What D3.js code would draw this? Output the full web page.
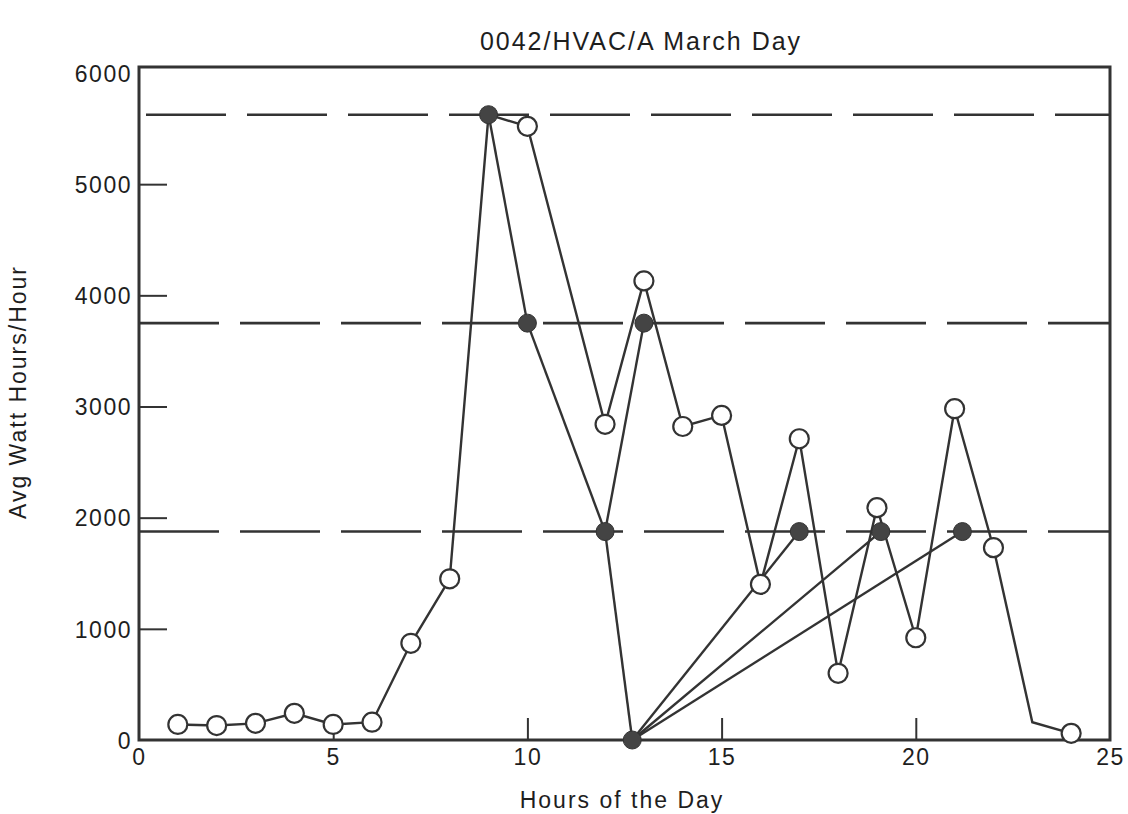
<!DOCTYPE html>
<html>
<head>
<meta charset="utf-8">
<script src="https://cdn.jsdelivr.net/npm/d3@7"></script>
<style>
  body { margin: 0; background: #fff; }
  text { font-family: "Liberation Sans", Arial, sans-serif; fill: #1e1e1e; }
</style>
</head>
<body>
<div id="chart"></div>
<script>
// open-circle series (hour 23 has no marker in the original)
const openHours = [1, 2, 3, 4, 5, 6, 7, 8, 9, 10, 12, 13, 14, 15, 16, 17, 18, 19, 20, 21, 22, 23, 24];
const openValues = [140, 130, 150, 240, 140, 160, 870, 1450, 5625, 5520, 2840, 4130, 2820, 2920, 1400, 2710, 600, 2090, 920, 2980, 1730, 160, 60];
const unmarkedHours = [9, 23];

// filled-circle points and the segments joining them
const filledHours = [9, 10, 12, 13, 12.7, 17, 19.1, 21.2];
const filledValues = [5625, 3750, 1875, 3750, 0, 1875, 1875, 1875];
const filledLinks = [[0, 1], [1, 2], [2, 3], [2, 4], [4, 5], [4, 6], [4, 7]];

// dashed reference levels
const refValues = [5625, 3750, 1875];

const xTicks = [0, 5, 10, 15, 20, 25];
const yTicks = [0, 1000, 2000, 3000, 4000, 5000, 6000];

const svgWidth = 1128, svgHeight = 814;
const margin = { top: 67, right: 18, bottom: 74, left: 139 };
const width = svgWidth - margin.left - margin.right;
const height = svgHeight - margin.top - margin.bottom;

const svg = d3.select("#chart").append("svg")
  .attr("width", svgWidth)
  .attr("height", svgHeight);

const g = svg.append("g")
  .attr("transform", `translate(${margin.left}, ${margin.top})`);

const x = d3.scaleLinear().domain([0, 25]).range([0, width]);
const y = d3.scaleLinear().domain([0, 6000]).range([height, 6]);

const ink = "#333";

// reference dashes
g.selectAll(".ref")
  .data(refValues)
  .enter().append("line")
  .attr("x1", (d, i) => i === 0 ? 7 : 0)
  .attr("x2", width)
  .attr("y1", d => y(d))
  .attr("y2", d => y(d))
  .attr("stroke", ink)
  .attr("stroke-width", 2.6)
  .attr("stroke-dasharray", "80 21");

// axes with inward ticks
const xAxis = g.append("g")
  .attr("transform", `translate(0, ${height})`)
  .call(d3.axisBottom(x).tickValues(xTicks).tickSize(-22).tickPadding(7).tickFormat(d3.format("d")));

const yAxis = g.append("g")
  .call(d3.axisLeft(y).tickValues(yTicks).tickSize(-28).tickPadding(7).tickFormat(d3.format("d")));

[xAxis, yAxis].forEach(a => {
  a.select(".domain").remove();
  a.selectAll("line").attr("stroke", ink).attr("stroke-width", 2);
  a.selectAll("text")
    .style("font-size", "23px")
    .style("letter-spacing", "1.5px")
    .attr("fill", "#1e1e1e");
});
xAxis.selectAll(".tick").filter(d => d === 0 || d === 25).select("line").remove();
yAxis.selectAll(".tick").filter(d => d === 0 || d === 6000).select("line").remove();
xAxis.selectAll("text").attr("dy", "0.78em");
yAxis.selectAll("text").attr("dy", "0.36em");

// frame
g.append("rect")
  .attr("x", 0).attr("y", 0)
  .attr("width", width).attr("height", height)
  .attr("fill", "none")
  .attr("stroke", ink)
  .attr("stroke-width", 3);

// open series line
const openData = openHours.map((h, i) => ({ h: h, v: openValues[i] }));
const line = d3.line().x(d => x(d.h)).y(d => y(d.v));

g.append("path")
  .datum(openData)
  .attr("d", line)
  .attr("fill", "none")
  .attr("stroke", ink)
  .attr("stroke-width", 2.4);

// filled series segments
const filledData = filledHours.map((h, i) => ({ h: h, v: filledValues[i] }));
g.selectAll(".link")
  .data(filledLinks)
  .enter().append("path")
  .attr("d", d => line([filledData[d[0]], filledData[d[1]]]))
  .attr("fill", "none")
  .attr("stroke", ink)
  .attr("stroke-width", 2.4);

// open markers
g.selectAll(".open")
  .data(openData.filter(d => !unmarkedHours.includes(d.h)))
  .enter().append("circle")
  .attr("cx", d => x(d.h))
  .attr("cy", d => y(d.v))
  .attr("r", 9.5)
  .attr("fill", "#fff")
  .attr("stroke", ink)
  .attr("stroke-width", 2.2);

// filled markers
g.selectAll(".filled")
  .data(filledData)
  .enter().append("circle")
  .attr("cx", d => x(d.h))
  .attr("cy", d => y(d.v))
  .attr("r", 9)
  .attr("fill", "#444")
  .attr("stroke", ink)
  .attr("stroke-width", 1);

// titles
svg.append("text")
  .attr("x", 641)
  .attr("y", 50)
  .attr("text-anchor", "middle")
  .style("font-size", "25px")
  .style("letter-spacing", "2px")
  .text("0042/HVAC/A March Day");

svg.append("text")
  .attr("x", 622)
  .attr("y", 808)
  .attr("text-anchor", "middle")
  .style("font-size", "23px")
  .style("letter-spacing", "2px")
  .text("Hours of the Day");

svg.append("text")
  .attr("transform", "translate(26, 392) rotate(-90)")
  .attr("text-anchor", "middle")
  .style("font-size", "23px")
  .style("letter-spacing", "2px")
  .text("Avg Watt Hours/Hour");
</script>
</body>
</html>
